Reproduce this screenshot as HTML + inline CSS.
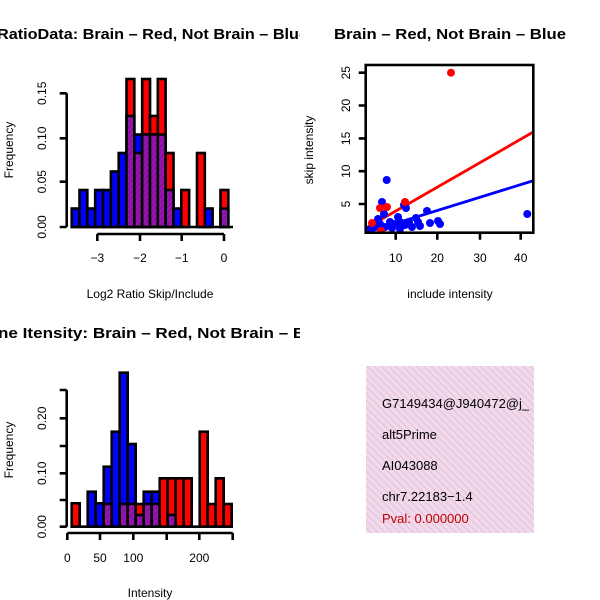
<!DOCTYPE html>
<html><head><style>body{margin:0;background:#fff}svg{display:block}text{font-family:"Liberation Sans",sans-serif}</style></head>
<body>
<svg width="600" height="600" viewBox="0 0 600 600" xmlns="http://www.w3.org/2000/svg">
<defs>
<pattern id="pp" width="4" height="4" patternUnits="userSpaceOnUse" patternTransform="rotate(45)">
<rect width="4" height="4" fill="#a010c0"/><rect width="2" height="4" fill="#801890"/></pattern>
<pattern id="pk" width="5" height="5" patternUnits="userSpaceOnUse" patternTransform="rotate(-45)">
<rect width="5" height="5" fill="#f6d6f0"/><rect width="1.5" height="5" fill="#dcd0d4"/></pattern>
<clipPath id="c1"><rect x="0" y="0" width="300" height="300"/></clipPath>
<clipPath id="c3"><rect x="0" y="300" width="300" height="300"/></clipPath>
<clipPath id="cb"><rect x="365.7" y="65" width="167.6" height="167.7"/></clipPath>
<clipPath id="cp"><rect x="366" y="366" width="168" height="168"/></clipPath>
</defs>
<text x="-3" y="39" font-size="15" font-weight="bold" clip-path="url(#c1)" textLength="311" lengthAdjust="spacingAndGlyphs">RatioData: Brain – Red, Not Brain – Blue</text>
<text x="334" y="39" font-size="15" font-weight="bold" textLength="232" lengthAdjust="spacingAndGlyphs">Brain – Red, Not Brain – Blue</text>
<text x="-2" y="338" font-size="15" font-weight="bold" clip-path="url(#c3)" textLength="312" lengthAdjust="spacingAndGlyphs">ne Itensity: Brain – Red, Not Brain – Bl</text>

<!-- top-left histogram -->
<g stroke="#000" stroke-width="2.6">
<rect x="71.7" y="208.5" width="7.83" height="18.5" fill="#00f"/>
<rect x="79.5" y="190" width="7.83" height="37" fill="#00f"/>
<rect x="87.4" y="208.5" width="7.83" height="18.5" fill="#00f"/>
<rect x="95.2" y="190" width="7.83" height="37" fill="#00f"/>
<rect x="103.0" y="190" width="7.83" height="37" fill="#00f"/>
<rect x="110.9" y="171.5" width="7.83" height="55.5" fill="#00f"/>
<rect x="118.7" y="153" width="7.83" height="74" fill="#00f"/>
<rect x="126.5" y="79" width="7.83" height="148" fill="#f00"/><rect x="126.5" y="116" width="7.83" height="111" fill="url(#pp)"/>
<rect x="134.3" y="134.5" width="7.83" height="92.5" fill="#00f"/><rect x="134.3" y="153" width="7.83" height="74" fill="url(#pp)"/>
<rect x="142.2" y="79" width="7.83" height="148" fill="#f00"/><rect x="142.2" y="134.5" width="7.83" height="92.5" fill="url(#pp)"/>
<rect x="150.0" y="116" width="7.83" height="111" fill="#f00"/><rect x="150.0" y="134.5" width="7.83" height="92.5" fill="url(#pp)"/>
<rect x="157.8" y="79" width="7.83" height="148" fill="#f00"/><rect x="157.8" y="134.5" width="7.83" height="92.5" fill="url(#pp)"/>
<rect x="165.7" y="153" width="7.83" height="74" fill="#f00"/><rect x="165.7" y="190" width="7.83" height="37" fill="url(#pp)"/>
<rect x="173.5" y="208.5" width="7.83" height="18.5" fill="#00f"/>
<rect x="181.3" y="190" width="7.83" height="37" fill="#f00"/>
<rect x="197.0" y="153" width="7.83" height="74" fill="#f00"/>
<rect x="204.8" y="208.5" width="7.83" height="18.5" fill="#00f"/>
<rect x="220.5" y="190" width="7.83" height="37" fill="#f00"/><rect x="220.5" y="208.5" width="7.83" height="18.5" fill="url(#pp)"/>
<line x1="71" y1="227" x2="233" y2="227"/>
</g>
<g stroke="#000" stroke-width="2.6" fill="none">
<path d="M97.3 234H224M97.3 234v7M140 234v7M181.7 234v7M224 234v7"/>
<path d="M66.7 227V93.3M66.7 227h-7M66.7 181.7h-7M66.7 138.3h-7M66.7 93.3h-7"/>
</g>
<g font-size="12" text-anchor="middle">
<text x="97.3" y="262">−3</text><text x="140" y="262">−2</text><text x="181.7" y="262">−1</text><text x="224" y="262">0</text>
<text transform="translate(46,227) rotate(-90)">0.00</text>
<text transform="translate(46,181.7) rotate(-90)">0.05</text>
<text transform="translate(46,138.3) rotate(-90)">0.10</text>
<text transform="translate(46,93.3) rotate(-90)">0.15</text>
<text x="150" y="298">Log2 Ratio Skip/Include</text>
<text transform="translate(13,150) rotate(-90)">Frequency</text>
</g>

<!-- scatter -->
<g clip-path="url(#cb)">
<line x1="365.7" y1="228.3" x2="533.3" y2="132" stroke="#f00" stroke-width="2.8"/>
<line x1="365.7" y1="232.7" x2="533.3" y2="180.7" stroke="#00f" stroke-width="2.8"/>
<g fill="#00f">
<circle cx="386.7" cy="180" r="4"/><circle cx="382" cy="202" r="4"/><circle cx="404" cy="205" r="4"/><circle cx="406" cy="208" r="4"/>
<circle cx="427" cy="211" r="4"/><circle cx="400" cy="222" r="4"/><circle cx="395" cy="224" r="4"/><circle cx="405" cy="225" r="4"/>
<circle cx="409" cy="222" r="4"/><circle cx="418" cy="222" r="4"/><circle cx="430" cy="223" r="4"/><circle cx="440" cy="224" r="4"/>
<circle cx="438" cy="221" r="4"/><circle cx="527.3" cy="214" r="4"/><circle cx="375" cy="226" r="4"/><circle cx="380" cy="224" r="4"/>
<circle cx="385" cy="227" r="4"/><circle cx="390" cy="222" r="4"/><circle cx="378" cy="219" r="4"/><circle cx="392" cy="228" r="4"/>
<circle cx="412" cy="227" r="4"/><circle cx="420" cy="226" r="4"/><circle cx="370" cy="229" r="4"/><circle cx="398" cy="217" r="4"/>
<circle cx="384" cy="214" r="4"/><circle cx="416" cy="218" r="4"/><circle cx="400" cy="229" r="4"/>
</g>
<g fill="#f00">
<circle cx="451" cy="72.7" r="4"/><circle cx="380" cy="208" r="4"/><circle cx="387" cy="207" r="4"/><circle cx="405" cy="202" r="4"/>
<circle cx="372" cy="223" r="4"/><circle cx="381" cy="231" r="4"/>
</g>
</g>
<rect x="365.7" y="65" width="167.6" height="167.7" fill="none" stroke="#000" stroke-width="2.6"/>
<g stroke="#000" stroke-width="2.6" fill="none">
<path d="M395.7 232.7v7M437.3 232.7v7M480 232.7v7M520.7 232.7v7"/>
<path d="M365.7 204h-7M365.7 171.2h-7M365.7 138.4h-7M365.7 105.5h-7M365.7 72.7h-7"/>
</g>
<g font-size="12" text-anchor="middle">
<text x="395.7" y="262">10</text><text x="437.3" y="262">20</text><text x="480" y="262">30</text><text x="520.7" y="262">40</text>
<text transform="translate(350,204) rotate(-90)">5</text>
<text transform="translate(350,171.2) rotate(-90)">10</text>
<text transform="translate(350,138.4) rotate(-90)">15</text>
<text transform="translate(350,105.5) rotate(-90)">20</text>
<text transform="translate(350,72.7) rotate(-90)">25</text>
<text x="450" y="298">include intensity</text>
<text transform="translate(313,150) rotate(-90)">skip intensity</text>
</g>

<!-- bottom-left histogram -->
<g stroke="#000" stroke-width="2.6">
<rect x="71.7" y="503.3" width="8" height="23.4" fill="#f00"/>
<rect x="87.7" y="491.7" width="8" height="35" fill="#00f"/>
<rect x="95.7" y="503.3" width="8" height="23.4" fill="#00f"/>
<rect x="103.7" y="466.7" width="8" height="60" fill="#00f"/><rect x="103.7" y="504" width="8" height="22.7" fill="url(#pp)"/>
<rect x="111.7" y="431.7" width="8" height="95" fill="#00f"/>
<rect x="119.7" y="372.7" width="8" height="154" fill="#00f"/><rect x="119.7" y="504" width="8" height="22.7" fill="url(#pp)"/>
<rect x="127.7" y="444" width="8" height="82.7" fill="#00f"/><rect x="127.7" y="504" width="8" height="22.7" fill="url(#pp)"/>
<rect x="135.7" y="504" width="8" height="22.7" fill="#f00"/><rect x="135.7" y="515" width="8" height="11.7" fill="url(#pp)"/>
<rect x="143.7" y="491.7" width="8" height="35" fill="#00f"/><rect x="143.7" y="504" width="8" height="22.7" fill="url(#pp)"/>
<rect x="151.7" y="491.7" width="8" height="35" fill="#00f"/><rect x="151.7" y="504" width="8" height="22.7" fill="url(#pp)"/>
<rect x="159.7" y="478.3" width="8" height="48.4" fill="#f00"/>
<rect x="167.7" y="478.3" width="8" height="48.4" fill="#f00"/><rect x="167.7" y="515" width="8" height="11.7" fill="url(#pp)"/>
<rect x="175.7" y="478.3" width="8" height="48.4" fill="#f00"/>
<rect x="183.7" y="478.3" width="8" height="48.4" fill="#f00"/>
<rect x="199.7" y="431.7" width="8" height="95" fill="#f00"/>
<rect x="207.7" y="504" width="8" height="22.7" fill="#f00"/>
<rect x="215.7" y="478.3" width="8" height="48.4" fill="#f00"/>
<rect x="223.7" y="504" width="8" height="22.7" fill="#f00"/>
<line x1="71" y1="526.7" x2="232" y2="526.7"/>
</g>
<g stroke="#000" stroke-width="2.6" fill="none">
<path d="M67.3 533H232.7M67.3 533v7M100 533v7M133.3 533v7M166.7 533v7M199.3 533v7M232.7 533v7"/>
<path d="M66.7 526.7V390M66.7 526.7h-7M66.7 500h-7M66.7 473.3h-7M66.7 446h-7M66.7 418.3h-7M66.7 390h-7"/>
</g>
<g font-size="12" text-anchor="middle">
<text x="67.3" y="562">0</text><text x="100" y="562">50</text><text x="133.3" y="562">100</text><text x="199.3" y="562">200</text>
<text transform="translate(46,526.7) rotate(-90)">0.00</text>
<text transform="translate(46,473.3) rotate(-90)">0.10</text>
<text transform="translate(46,418.3) rotate(-90)">0.20</text>
<text x="150" y="597">Intensity</text>
<text transform="translate(13,450) rotate(-90)">Frequency</text>
</g>

<!-- info panel -->
<rect x="366" y="366" width="168" height="167" fill="url(#pk)"/>
<g font-size="13" clip-path="url(#cp)">
<text x="382" y="408">G7149434@J940472@j_</text>
<text x="382" y="439">alt5Prime</text>
<text x="382" y="470">AI043088</text>
<text x="382" y="501">chr7.22183−1.4</text>
<text x="382" y="523" fill="#c00000">Pval: 0.000000</text>
</g>
</svg>
</body></html>
